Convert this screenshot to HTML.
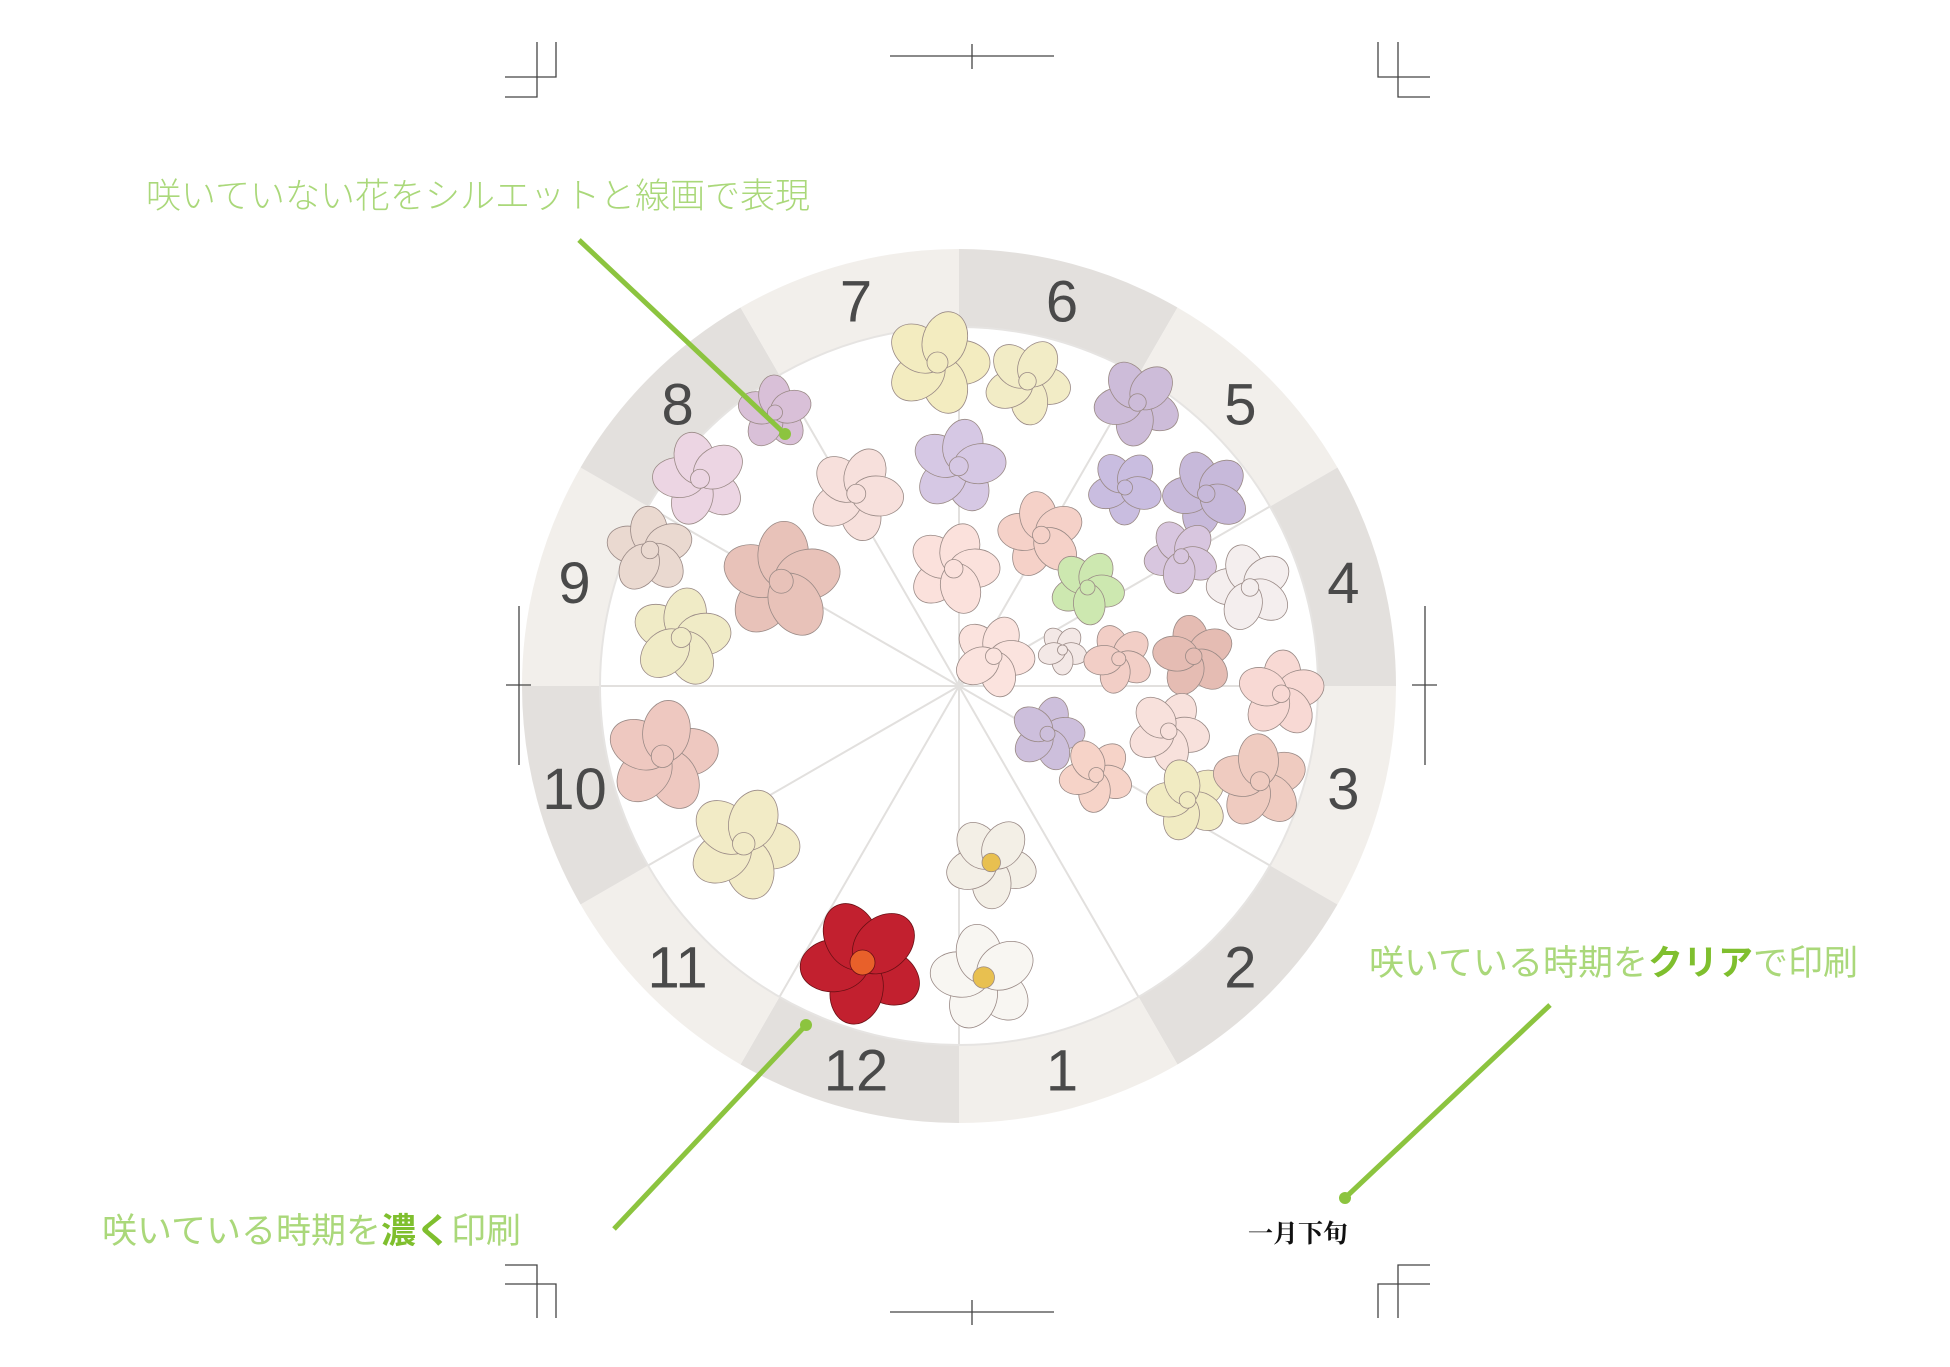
<!DOCTYPE html>
<html><head><meta charset="utf-8"><style>
html,body{margin:0;padding:0;background:#fff}
svg{display:block}
</style></head><body>
<svg id="chart" width="1950" height="1367" viewBox="0 0 1950 1367" xmlns="http://www.w3.org/2000/svg">
<g id="ring"></g>
<g id="spokes"></g>
<g id="flowers"></g>
<g id="labels"></g>
<g stroke="#444" stroke-width="1.3" fill="none">
 <path d="M537 42V97H505M556 42V77H505"/>
 <path d="M1398 42V97H1430M1378 42V77H1430"/>
 <path d="M537 1318V1265H505M556 1318V1284H505"/>
 <path d="M1398 1318V1265H1430M1378 1318V1284H1430"/>
 <path d="M890 56H1054M972 44V69"/>
 <path d="M890 1312H1054M972 1300V1325"/>
 <path d="M519 606V765M506 685H531"/>
 <path d="M1425 606V765M1412 685H1437"/>
</g>
<g>
 <text x="146" y="208" font-family="Liberation Sans,Noto Sans CJK JP,sans-serif" font-size="35" fill="#aad87a" font-weight="300">咲いていない花をシルエットと線画で表現</text>
 <line x1="579" y1="240" x2="785" y2="434" stroke="#8cc43f" stroke-width="5"/>
 <circle cx="785" cy="434" r="6" fill="#8cc43f"/>
</g>
<g>
 <text x="1369" y="975" font-family="Liberation Sans,Noto Sans CJK JP,sans-serif" font-size="35" fill="#aad87a">咲いている時期を<tspan fill="#7fbf2e" font-weight="bold">クリア</tspan>で印刷</text>
 <line x1="1550" y1="1005" x2="1345" y2="1198" stroke="#8cc43f" stroke-width="5"/>
 <circle cx="1345" cy="1198" r="6" fill="#8cc43f"/>
</g>
<g>
 <text x="102" y="1243" font-family="Liberation Sans,Noto Sans CJK JP,sans-serif" font-size="35" fill="#aad87a">咲いている時期を<tspan fill="#7fbf2e" font-weight="bold">濃く</tspan>印刷</text>
 <line x1="614" y1="1229" x2="806" y2="1025" stroke="#8cc43f" stroke-width="5"/>
 <circle cx="806" cy="1025" r="6" fill="#8cc43f"/>
</g>
<text x="1248" y="1242" font-family="Liberation Serif,Noto Serif CJK SC,serif" font-size="25" font-weight="bold" fill="#111">一月下旬</text>
</svg>
<script>
const months=[6,5,4,3,2,1,12,11,10,9,8,7];
const darkMonths=[6,4,2,12,10,8];
const flowerColors=["#f3ecc0","#f2ecc6","#cdbcd9","#ecd5e3","#d9c0d8","#d6c8e4","#f7e0dc","#c9bde0","#c7b9da","#f5d1c8","#e8c2b9","#fbe1dc","#cde8b0","#d8c6df","#f4eeee","#ead9d0","#f0ebc6","#fbe3de","#f3e8e6","#f2cec6","#e5bcb3","#f8d9d4","#cdbfdc","#f8e1dc","#f6d3c8","#f1ebc2","#efcbc0","#eec8c0","#f2ebc6","#f3efe6","#c2202f","#f8f6f2"];
const flowerX=[750,822,910,560,620,767,685,900,965,833,625,763,870,945,1000,520,545,795,850,895,955,1025,838,935,877,950,1008,530,595,793,690,787];
const flowerY=[290,305,322,383,330,373,395,390,395,428,465,455,470,445,470,440,510,525,520,527,525,555,587,585,620,640,625,605,675,690,770,782];
const flowerR=[42,35,35,38,30,38,38,30,35,35,48,37,30,30,35,35,40,33,20,28,33,35,30,33,30,33,38,45,45,37,50,43];
const NS="http://www.w3.org/2000/svg";
const cx=959,cy=686,Ro=437,Ri=359;
function pt(a,r){const t=(a-90)*Math.PI/180;return [cx+r*Math.cos(t),cy+r*Math.sin(t)];}
const ring=document.getElementById('ring'),sp=document.getElementById('spokes'),lb=document.getElementById('labels'),fl=document.getElementById('flowers');
months.forEach((m,i)=>{
 const a0=i*30,a1=a0+30;
 const p1=pt(a0,Ro),p2=pt(a1,Ro),p3=pt(a1,Ri),p4=pt(a0,Ri);
 const p=document.createElementNS(NS,'path');
 p.setAttribute('d',`M${p1}A${Ro} ${Ro} 0 0 1 ${p2}L${p3}A${Ri} ${Ri} 0 0 0 ${p4}Z`);
 p.setAttribute('fill',darkMonths.includes(m)?'#e3e0dd':'#f2efeb');
 
 
 ring.appendChild(p);
 const e=pt(a0,Ri);
 const l=document.createElementNS(NS,'line');
 l.setAttribute('x1',cx);l.setAttribute('y1',cy);l.setAttribute('x2',e[0]);l.setAttribute('y2',e[1]);
 l.setAttribute('stroke','#e2e0de');l.setAttribute('stroke-width','2');
 
 
 sp.appendChild(l);
 const c=pt(a0+15,(Ro+Ri)/2);
 const t=document.createElementNS(NS,'text');
 t.setAttribute('x',c[0]);t.setAttribute('y',c[1]+20);t.setAttribute('text-anchor','middle');
 t.setAttribute('font-family','Liberation Sans,sans-serif');t.setAttribute('font-size','58');t.setAttribute('fill','#4a4a4a');
 t.textContent=m;
 
 
 lb.appendChild(t);
});
const ic=document.createElementNS(NS,'circle');
ic.setAttribute('cx',cx);ic.setAttribute('cy',cy);ic.setAttribute('r',Ri);ic.setAttribute('fill','none');ic.setAttribute('stroke','#e6e4e2');ic.setAttribute('stroke-width','2');


sp.appendChild(ic);
flowerColors.forEach((col,i)=>{
 const x=flowerX[i]*1.25,y=flowerY[i]*1.25,r=flowerR[i]*1.25;
 const g=document.createElementNS(NS,'g');
 
 
 const stroke=i===30?'#6a0f14':'#9a8a86';
 for(let k=0;k<5;k++){
  const e=document.createElementNS(NS,'ellipse');
  const a=k*72+i*13;
  const q=[x+r*0.45*Math.cos(a*Math.PI/180),y+r*0.45*Math.sin(a*Math.PI/180)];
  e.setAttribute('cx',q[0]);e.setAttribute('cy',q[1]);e.setAttribute('rx',r*0.55);e.setAttribute('ry',r*0.42);
  e.setAttribute('transform',`rotate(${a} ${q[0]} ${q[1]})`);
  e.setAttribute('fill',col);e.setAttribute('stroke',stroke);e.setAttribute('stroke-width','0.8');
  g.appendChild(e);
 }
 const c=document.createElementNS(NS,'circle');
 c.setAttribute('cx',x);c.setAttribute('cy',y);c.setAttribute('r',r*0.2);
 c.setAttribute('fill',i===30?'#e8602a':(i===29||i===31)?'#e8c050':col);c.setAttribute('stroke',stroke);c.setAttribute('stroke-width','0.8');
 g.appendChild(c);
 fl.appendChild(g);
});
</script>
</body></html>
